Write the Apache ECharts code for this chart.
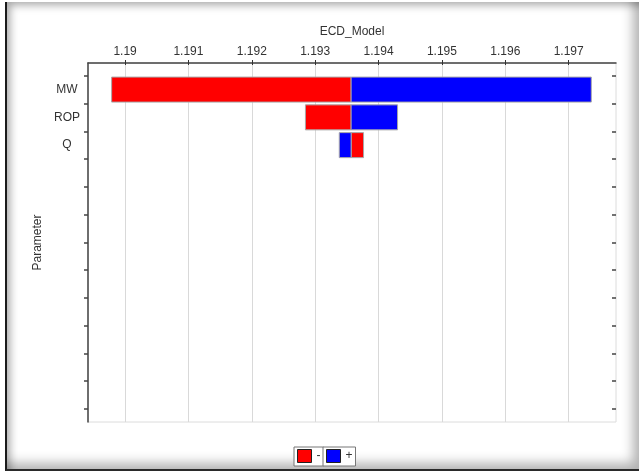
<!DOCTYPE html>
<html>
<head>
<meta charset="utf-8">
<script src="https://cdn.jsdelivr.net/npm/echarts@6/dist/echarts.min.js"></script>
<style>
  html, body { margin: 0; padding: 0; background: #fff; }
  #panel {
    position: absolute; left: 5px; top: 2px; width: 632px; height: 467px;
    border-left: 2px solid #1a1a1a; border-bottom: 2px solid #2a2a2a;
    box-shadow: inset 9px 9px 9px -6px rgba(0,0,0,0.35), inset -12px -12px 12px -6px rgba(0,0,0,0.3);
  }
  #chart { position: absolute; left: 0; top: 0; width: 639px; height: 473px; }
</style>
</head>
<body>
<div id="panel"></div>
<div id="chart"></div>
<script>
// Tornado chart of ECD_Model sensitivity to each parameter
const parameters = ['MW', 'ROP', 'Q'];
const lowCase = [1.189788, 1.192846, 1.193763];   // "-" case result
const highCase = [1.197357, 1.194300, 1.193380];  // "+" case result
const baseValue = 1.193567;                       // base case result
const tickValues = [1.19, 1.191, 1.192, 1.193, 1.194, 1.195, 1.196, 1.197];
const axisMin = 1.189415;
const axisMax = 1.197747;
const slotCount = 12;
const categories = parameters.concat(new Array(slotCount - parameters.length).fill(''));

const FONT = "'Liberation Sans', Arial, sans-serif";
const TEXT = { color: '#333', fontSize: 12, fontFamily: FONT };

function renderBar(params, api) {
  const cat = api.value(0);
  const a = api.coord([api.value(1), cat]);
  const b = api.coord([api.value(2), cat]);
  const h = api.size([0, 1])[1] * 0.9;
  return {
    type: 'rect',
    shape: { x: Math.min(a[0], b[0]), y: a[1] - h / 2, width: Math.abs(b[0] - a[0]), height: h },
    style: { fill: api.visual('color'), stroke: '#a8a8a8', lineWidth: 1 }
  };
}

const chart = echarts.init(document.getElementById('chart'), null, { renderer: 'canvas' });
chart.setOption({
  animation: false,
  backgroundColor: 'transparent',
  textStyle: { fontFamily: FONT },
  grid: [
    { left: 88, right: 23, top: 63, bottom: 51, show: true, borderColor: '#dcdcdc', borderWidth: 1, backgroundColor: 'transparent' },
    { left: 88, right: 23, top: 75.7, bottom: 64 }
  ],
  xAxis: [
    {
      type: 'value', gridIndex: 0, position: 'top', min: axisMin, max: axisMax,
      name: 'ECD_Model', nameLocation: 'middle', nameGap: 25, nameTextStyle: TEXT,
      axisLine: { show: true, onZero: false, lineStyle: { color: '#444', width: 1.5 } },
      axisTick: { show: true, inside: false, length: 3, customValues: tickValues, lineStyle: { color: '#333', width: 1 } },
      axisLabel: { show: true, margin: 5, customValues: tickValues, ...TEXT },
      splitLine: { show: true, lineStyle: { color: '#d9d9d9', width: 1 } }
    },
    {
      type: 'value', gridIndex: 0, position: 'top', min: axisMin, max: axisMax,
      axisLine: { show: false, onZero: false },
      axisTick: { show: true, inside: true, length: 2, customValues: tickValues, lineStyle: { color: '#333', width: 1 } },
      axisLabel: { show: false },
      splitLine: { show: false }
    },
    { type: 'value', gridIndex: 1, min: axisMin, max: axisMax, show: false }
  ],
  yAxis: [
    {
      type: 'value', gridIndex: 0, min: 0, max: 1,
      name: 'Parameter', nameLocation: 'middle', nameGap: 44, nameRotate: 90, nameTextStyle: TEXT,
      axisLine: { show: true, onZero: false, lineStyle: { color: '#444', width: 1.5 } },
      axisTick: { show: false }, axisLabel: { show: false }, splitLine: { show: false }
    },
    {
      type: 'category', gridIndex: 1, data: categories, inverse: true,
      axisLine: { show: false, onZero: false },
      axisTick: { show: true, inside: false, length: 4, lineStyle: { color: '#444', width: 1.5 } },
      axisLabel: { show: true, align: 'center', margin: 21, interval: 0, ...TEXT },
      splitLine: { show: false }
    },
    {
      type: 'category', gridIndex: 1, data: categories, inverse: true,
      axisLine: { show: false, onZero: false },
      axisTick: { show: true, inside: true, length: 4, lineStyle: { color: '#444', width: 1.5 } },
      axisLabel: { show: false },
      splitLine: { show: false }
    }
  ],
  legend: [
    {
      data: ['-'], left: 294, top: 447, orient: 'horizontal',
      padding: [2, 3, 3, 3], itemWidth: 14, itemHeight: 13, icon: 'rect',
      borderColor: '#777', borderWidth: 1, backgroundColor: '#fff',
      itemStyle: { borderColor: '#222', borderWidth: 1 }, textStyle: TEXT
    },
    {
      data: ['+'], left: 323, top: 447, orient: 'horizontal',
      padding: [2, 3, 3, 3], itemWidth: 14, itemHeight: 13, icon: 'rect',
      borderColor: '#777', borderWidth: 1, backgroundColor: '#fff',
      itemStyle: { borderColor: '#222', borderWidth: 1 }, textStyle: TEXT
    }
  ],
  series: [
    {
      name: '-', type: 'custom', xAxisIndex: 2, yAxisIndex: 1,
      itemStyle: { color: '#ff0000' },
      encode: { x: [1, 2], y: 0 },
      renderItem: renderBar,
      data: parameters.map((p, i) => [i, baseValue, lowCase[i]])
    },
    {
      name: '+', type: 'custom', xAxisIndex: 2, yAxisIndex: 1,
      itemStyle: { color: '#0000ff' },
      encode: { x: [1, 2], y: 0 },
      renderItem: renderBar,
      data: parameters.map((p, i) => [i, baseValue, highCase[i]])
    }
  ]
});
</script>
</body>
</html>
